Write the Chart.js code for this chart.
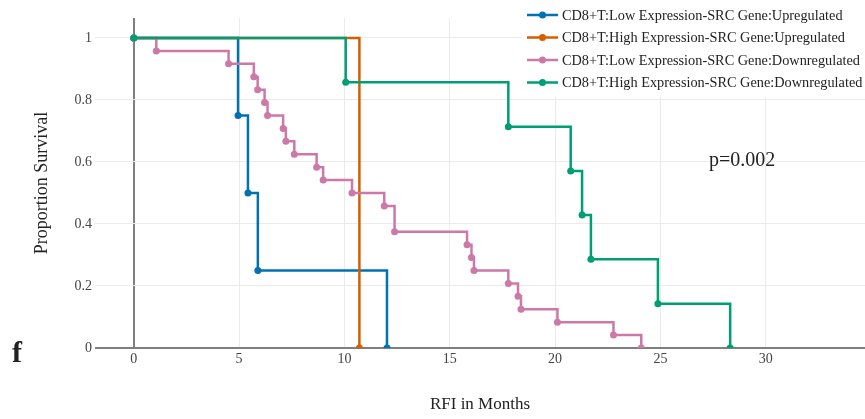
<!DOCTYPE html>
<html>
<head>
<meta charset="utf-8">
<script src="https://cdn.jsdelivr.net/npm/chart.js@4.4.1/dist/chart.umd.min.js"></script>
<style>
  html, body { margin: 0; padding: 0; background: #fff; }
  #wrap { width: 865px; height: 419px; }
</style>
</head>
<body>
<div id="wrap"><canvas id="km"></canvas></div>
<script>
/* survival curves (months, proportion) */

const seriesNames = [
  "CD8+T:Low Expression-SRC Gene:Upregulated",
  "CD8+T:High Expression-SRC Gene:Upregulated",
  "CD8+T:Low Expression-SRC Gene:Downregulated",
  "CD8+T:High Expression-SRC Gene:Downregulated"
];
const seriesColors = ["#0072B2", "#D55E00", "#CC79A7", "#009E73"];

const lowUpTime = [0, 4.95, 5.42, 5.89, 12.02];
const lowUpSurv = [1, 0.75, 0.5, 0.25, 0];

const highUpTime = [0, 10.71];
const highUpSurv = [1, 0];

const lowDownTime = [0, 1.07, 4.5, 5.70, 5.88, 6.21, 6.35, 7.09, 7.22, 7.62, 8.68, 8.99,
                     10.36, 11.89, 12.38, 15.82, 16.03, 16.15, 17.78, 18.24, 18.38, 20.11, 22.77, 24.09];
const lowDownSurv = [1, 0.958, 0.917, 0.875, 0.833, 0.792, 0.75, 0.708, 0.667, 0.625, 0.583, 0.542,
                     0.5, 0.458, 0.375, 0.333, 0.292, 0.25, 0.208, 0.167, 0.125, 0.083, 0.042, 0];

const highDownTime = [0, 10.06, 17.78, 20.74, 21.28, 21.7, 24.88, 28.31];
const highDownSurv = [1, 0.857, 0.714, 0.571, 0.429, 0.286, 0.143, 0];

const xTicks = [0, 5, 10, 15, 20, 25, 30];
const yTicks = [0, 0.2, 0.4, 0.6, 0.8, 1];
const pValueText = "p=0.002";
const panelLetter = "f";

const SERIF = "'Liberation Serif', 'Times New Roman', serif";

function toPoints(times, surv){
    return times.map((t, i) => ({ x: t, y: surv[i] }));
}

const curves = [
    toPoints(lowUpTime, lowUpSurv),
    toPoints(highUpTime, highUpSurv),
    toPoints(lowDownTime, lowDownSurv),
    toPoints(highDownTime, highDownSurv)
];

/* legend box + p value + panel letter */
const overlay = {
    id: 'overlay',
    afterDraw(chart){
        const ctx = chart.ctx;
        ctx.save();

        ctx.fillStyle = '#fff';
        ctx.fillRect(522, 0, 343, 97);

        ctx.font = "14.3px " + SERIF;
        ctx.textBaseline = 'middle';
        ctx.textAlign = 'left';
        chart.data.datasets.forEach((ds, i) => {
            const y = 15 + i * 22.5;
            ctx.strokeStyle = ds.borderColor;
            ctx.lineWidth = 2.5;
            ctx.beginPath();
            ctx.moveTo(527, y);
            ctx.lineTo(558, y);
            ctx.stroke();
            ctx.fillStyle = ds.borderColor;
            ctx.beginPath();
            ctx.arc(542.5, y, 3.5, 0, Math.PI * 2);
            ctx.fill();
            ctx.fillStyle = '#222';
            ctx.fillText(ds.label, 562, y + 1);
        });

        ctx.font = "20px " + SERIF;
        ctx.fillStyle = '#222';
        ctx.fillText(pValueText, 709, 161);

        ctx.font = "bold 30px " + SERIF;
        ctx.textBaseline = 'alphabetic';
        ctx.fillText(panelLetter, 12, 362);

        ctx.restore();
    }
};

const zeroColor = c => (c.tick && c.tick.value === 0) ? '#7f7f7f' : '#ebebeb';
const zeroWidth = c => (c.tick && c.tick.value === 0) ? 2 : 1;

new Chart(document.getElementById('km'), {
    type: 'line',
    data: {
        datasets: curves.map((pts, i) => ({
            label: seriesNames[i],
            data: pts,
            borderColor: seriesColors[i],
            backgroundColor: seriesColors[i],
            pointBackgroundColor: seriesColors[i],
            pointBorderWidth: 0,
            pointRadius: 3.5,
            borderWidth: 2.5,
            stepped: 'before',
            fill: false,
            clip: 0,
            order: 4 - i
        }))
    },
    options: {
        responsive: true,
        maintainAspectRatio: false,
        animation: false,
        layout: { autoPadding: false, padding: { top: 18, left: 0, right: 0, bottom: 0 } },
        plugins: {
            legend: { display: false },
            tooltip: { enabled: false }
        },
        scales: {
            x: {
                type: 'linear',
                min: -1.84,
                max: 34.71,
                afterBuildTicks: s => { s.ticks = xTicks.map(v => ({ value: v })); },
                afterFit: s => { s.height = 71; },
                grid: { color: zeroColor, lineWidth: zeroWidth, drawTicks: false },
                border: { display: false },
                ticks: {
                    padding: 3,
                    maxRotation: 0,
                    color: '#444',
                    font: { family: SERIF, size: 14 }
                },
                title: {
                    display: true,
                    text: 'RFI in Months',
                    color: '#222',
                    font: { family: SERIF, size: 17 },
                    padding: { top: 0, bottom: 4 }
                }
            },
            y: {
                min: 0,
                max: 1.0645,
                afterBuildTicks: s => { s.ticks = yTicks.map(v => ({ value: v })); },
                afterFit: s => { s.width = 95; },
                grid: { color: zeroColor, lineWidth: zeroWidth, drawTicks: false },
                border: { display: false },
                ticks: {
                    padding: 3,
                    color: '#444',
                    font: { family: SERIF, size: 14 },
                    callback: v => String(+v.toFixed(1))
                },
                title: {
                    display: true,
                    text: 'Proportion Survival',
                    color: '#222',
                    font: { family: SERIF, size: 18 },
                    padding: { top: 31, bottom: 0 }
                }
            }
        }
    },
    plugins: [overlay]
});
</script>
</body>
</html>
